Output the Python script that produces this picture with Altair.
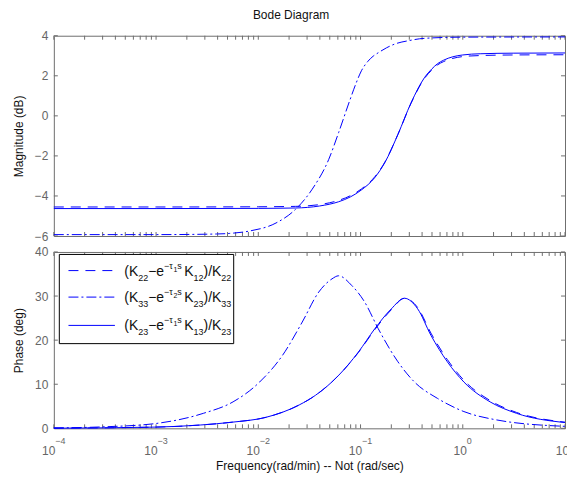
import altair as alt
import pandas as pd

# ---------------- data ----------------
# Magnitude (dB)
mag_freq = [0.0001, 0.001, 0.01, 0.0232, 0.0398, 0.0610, 0.0794, 0.102, 0.138, 0.173,
            0.232, 0.312, 0.421, 0.5, 0.565, 0.65, 0.8, 1.0, 1.48, 3.16, 10.0]
mag_k23 = [-4.63, -4.63, -4.62, -4.60, -4.50, -4.29, -4.05, -3.70, -3.08, -2.33,
           -0.93, 0.65, 1.90, 2.35, 2.60, 2.78, 2.95, 3.04, 3.10, 3.13, 3.14]
mag_k22 = [-4.55, -4.55, -4.54, -4.52, -4.43, -4.22, -3.99, -3.65, -3.04, -2.31,
           -0.93, 0.63, 1.86, 2.30, 2.54, 2.71, 2.87, 2.96, 3.01, 3.04, 3.05]
mag33_freq = [0.0001, 0.001, 0.00389, 0.00525, 0.00822, 0.0149, 0.0232, 0.0337, 0.0489,
              0.0610, 0.0791, 0.09, 0.102, 0.117, 0.133, 0.149, 0.18, 0.215, 0.3, 0.421,
              1.0, 10.0]
mag_k33 = [-5.93, -5.93, -5.90, -5.87, -5.75, -5.35, -4.66, -3.66, -2.17,
           -0.84, 0.82, 1.60, 2.25, 2.70, 2.98, 3.15, 3.40, 3.58, 3.76, 3.87,
           3.93, 3.94]

# Phase (deg)
ph_freq = [0.0001, 0.001, 0.0027, 0.0056, 0.0119, 0.0251, 0.0363, 0.061, 0.0953, 0.138,
           0.2, 0.269, 0.362, 0.488, 0.706, 1.026, 1.85, 3.36, 10.0]
ph_k23 = [0.03, 0.28, 0.75, 1.4, 2.5, 5.3, 7.5, 12.0, 17.3, 22.6,
          27.1, 29.5, 27.1, 21.1, 15.1, 10.5, 6.0, 3.4, 1.3]
ph_k22 = [0.03, 0.28, 0.75, 1.4, 2.5, 5.3, 7.5, 12.0, 17.2, 22.4,
          26.9, 29.5, 27.4, 21.6, 15.6, 10.9, 6.3, 3.6, 1.4]
ph33_freq = [0.0001, 0.000316, 0.001, 0.0029, 0.00566, 0.0103, 0.0173, 0.0269, 0.039, 0.0526,
             0.061, 0.082, 0.110, 0.149, 0.232, 0.337, 0.565, 1.026, 2.15, 10.0]
ph_k33 = [0.1, 0.35, 1.1, 3.4, 6.0, 10.5, 16.6, 24.1, 30.9, 33.9,
          34.6, 32.4, 28.6, 22.6, 15.1, 10.5, 6.8, 3.8, 1.9, 0.45]

# axis ticks / labels
x_label_freq = [0.0001, 0.001, 0.01, 0.1, 1.0, 10.0]
x_label_base = ["10", "10", "10", "10", "10", "10"]
x_label_exp = ["−4", "−3", "−2", "−1", "0", "1"]
mag_ticks = [-6, -4, -2, 0, 2, 4]
ph_ticks = [0, 10, 20, 30, 40]
x_minor = [k * 10.0 ** e for e in range(-4, 1) for k in range(1, 10)] + [10.0]

# legend entries: (first sub, tau index, K sub, last sub)
legend_rows = [("22", "1", "12", "22"), ("33", "2", "23", "33"), ("23", "1", "13", "23")]
legend_dash = [[10, 7], [10, 3, 2, 3], None]

# ---------------- style ----------------
FONT = "Liberation Sans"
BLUE = "#0000ff"
FRAME = "#6e6e6e"
W, H1, H2 = 513, 201, 177
xscale = alt.Scale(type="log", domain=[1e-4, 10], nice=False)
y1scale = alt.Scale(domain=[-6, 4], nice=False, zero=False)
y2scale = alt.Scale(domain=[0, 40], nice=False, zero=False)


def yaxis(vals, title):
    return alt.Axis(
        values=vals, ticks=False, domain=False, grid=False, labelPadding=6,
        minExtent=22, maxExtent=22, title=title, titlePadding=6,
        labelFontSize=12, titleFontSize=12, labelColor="#666666", titleColor="#111111",
        labelFont=FONT, titleFont=FONT, titleFontWeight="normal")


XAX_TOP = alt.Axis(labels=False, ticks=False, domain=False, grid=False, title=None,
                   minExtent=0, maxExtent=0)
XAX_BOT = alt.Axis(title="Frequency(rad/min) -- Not  (rad/sec)", labels=False, ticks=False,
                   domain=False, grid=False, minExtent=0, maxExtent=0, titlePadding=41,
                   titleBaseline="alphabetic", titleFontSize=12, titleFont=FONT,
                   titleColor="#111111", titleFontWeight="normal")
Y1AX = yaxis(mag_ticks, "Magnitude (dB)")
Y2AX = yaxis(ph_ticks, "Phase (deg)")


def line(freq, vals, dash, yscale, xax, yax):
    df = pd.DataFrame({"f": freq, "v": vals})
    kw = dict(color=BLUE, strokeWidth=1, interpolate="monotone")
    if dash:
        kw["strokeDash"] = dash
    return alt.Chart(df).mark_line(**kw).encode(
        x=alt.X("f:Q", scale=xscale, axis=xax),
        y=alt.Y("v:Q", scale=yscale, axis=yax),
    )


def frame_ticks(yscale, yvals, h, xax, yax):
    xdf = pd.DataFrame({"f": x_minor})
    ydf = pd.DataFrame({"v": yvals})
    out = []
    for (a, b) in [(0, 4), (h - 4, h)]:
        out.append(alt.Chart(xdf).mark_rule(color=FRAME, strokeWidth=1).encode(
            x=alt.X("f:Q", scale=xscale, axis=xax), y=alt.value(a), y2=alt.value(b)))
    for (a, b) in [(0, 4), (W - 4, W)]:
        out.append(alt.Chart(ydf).mark_rule(color=FRAME, strokeWidth=1).encode(
            y=alt.Y("v:Q", scale=yscale, axis=yax), x=alt.value(a), x2=alt.value(b)))
    return out


# ---------------- top panel ----------------
top = alt.layer(
    *frame_ticks(y1scale, mag_ticks, H1, XAX_TOP, Y1AX),
    line(mag_freq, mag_k22, [10, 7], y1scale, XAX_TOP, Y1AX),
    line(mag33_freq, mag_k33, [10, 3, 2, 3], y1scale, XAX_TOP, Y1AX),
    line(mag_freq, mag_k23, None, y1scale, XAX_TOP, Y1AX),
).properties(width=W, height=H1)

# ---------------- bottom panel ----------------
xt = pd.DataFrame({"f": x_label_freq, "b": x_label_base, "e": x_label_exp})
label_layers = []
neg = xt[xt["e"].str.startswith("−")]
pos = xt[~xt["e"].str.startswith("−")]
for sub, base_dx, exp_dx in [(neg, -11.8, 1.5), (pos, -9.2, 4.1)]:
    label_layers.append(alt.Chart(sub).mark_text(
        align="left", baseline="alphabetic", dx=base_dx, font=FONT, fontSize=12,
        color="#666666").encode(
        x=alt.X("f:Q", scale=xscale, axis=XAX_BOT), y=alt.value(H2 + 26.5), text="b:N"))
    label_layers.append(alt.Chart(sub).transform_filter("datum.f < 5").mark_text(
        align="left", baseline="alphabetic", dx=exp_dx, font=FONT, fontSize=9,
        color="#666666").encode(
        x=alt.X("f:Q", scale=xscale, axis=XAX_BOT), y=alt.value(H2 + 16), text="e:N"))

# legend
one = alt.Data(values=[{}])
ADV = {"(": 0.333, ")": 0.333, "K": 0.667, "−": 0.584, "e": 0.556, "τ": 0.45,
       "s": 0.5, " ": 0.278, "/": 0.278}


def tw(s, fs):
    return sum(ADV.get(c, 0.556) for c in s) * fs


legend_layers = [alt.Chart(one).mark_rect(fill="white", stroke="black", strokeWidth=1).encode(
    x=alt.value(5.5), x2=alt.value(180.5), y=alt.value(2.5), y2=alt.value(92))]
row_y = [18.7, 45.3, 73.7]
for (s1, tau, s2, s3), dash, ry in zip(legend_rows, legend_dash, row_y):
    kw = dict(color=BLUE, strokeWidth=1)
    if dash:
        kw["strokeDash"] = dash
    legend_layers.append(alt.Chart(one).mark_rule(**kw).encode(
        x=alt.value(14.7), x2=alt.value(61.3), y=alt.value(ry)))
    base = ry + 5
    pieces = [("(K", 14, 0), (s1, 9, 5), ("−e", 14, 0), ("−τ", 9, -7), (tau, 7, -4),
              (" s", 9, -7), ("K", 14, 0), (s2, 9, 5), (")/K", 14, 0), (s3, 9, 5)]
    x = 70.7
    for txt, fs, dy in pieces:
        legend_layers.append(alt.Chart(one).mark_text(
            align="left", baseline="alphabetic", font=FONT, fontSize=fs, color="#111111").encode(
            x=alt.value(x), y=alt.value(base + dy), text=alt.value(txt)))
        x += tw(txt, fs)

bottom = alt.layer(
    *frame_ticks(y2scale, ph_ticks, H2, XAX_BOT, Y2AX),
    line(ph_freq, ph_k22, [10, 7], y2scale, XAX_BOT, Y2AX),
    line(ph33_freq, ph_k33, [10, 3, 2, 3], y2scale, XAX_BOT, Y2AX),
    line(ph_freq, ph_k23, None, y2scale, XAX_BOT, Y2AX),
    *label_layers,
    *legend_layers,
).properties(width=W, height=H2)

chart = alt.vconcat(top, bottom, spacing=16, bounds="flush").properties(
    title=alt.TitleParams("Bode Diagram", fontSize=12, font=FONT, fontWeight="normal",
                          color="#111111", offset=7.5, anchor="middle"),
    padding={"left": 4, "top": 0, "right": -3, "bottom": 0},
).configure_view(stroke=FRAME, strokeWidth=1)

chart.save("out.html", embed_options={"renderer": "svg", "actions": False})
